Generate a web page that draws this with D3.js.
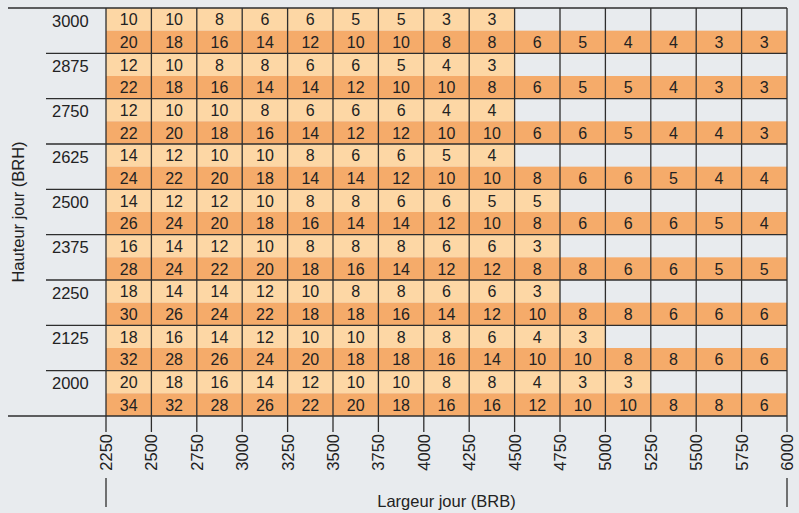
<!DOCTYPE html>
<html><head><meta charset="utf-8">
<script src="https://cdn.jsdelivr.net/npm/d3@7"></script>
<style>
html,body{margin:0;padding:0;background:#e8ebee;}
svg{display:block;font-family:"Liberation Sans",Arial,Helvetica,sans-serif;}
</style></head>
<body><svg id="c" width="799" height="513"></svg>
<script>
const rows = [3000, 2875, 2750, 2625, 2500, 2375, 2250, 2125, 2000];
const xTicks = [2250, 2500, 2750, 3000, 3250, 3500, 3750, 4000, 4250, 4500, 4750, 5000, 5250, 5500, 5750, 6000];
const topValues = [
  [10,10,8,6,6,5,5,3,3],
  [12,10,8,8,6,6,5,4,3],
  [12,10,10,8,6,6,6,4,4],
  [14,12,10,10,8,6,6,5,4],
  [14,12,12,10,8,8,6,6,5,5],
  [16,14,12,10,8,8,8,6,6,3],
  [18,14,14,12,10,8,8,6,6,3],
  [18,16,14,12,10,10,8,8,6,4,3],
  [20,18,16,14,12,10,10,8,8,4,3,3]
];
const bottomValues = [
  [20,18,16,14,12,10,10,8,8,6,5,4,4,3,3],
  [22,18,16,14,14,12,10,10,8,6,5,5,4,3,3],
  [22,20,18,16,14,12,12,10,10,6,6,5,4,4,3],
  [24,22,20,18,14,14,12,10,10,8,6,6,5,4,4],
  [26,24,20,18,16,14,14,12,10,8,6,6,6,5,4],
  [28,24,22,20,18,16,14,12,12,8,8,6,6,5,5],
  [30,26,24,22,18,18,16,14,12,10,8,8,6,6,6],
  [32,28,26,24,20,18,18,16,14,10,10,8,8,6,6],
  [34,32,28,26,22,20,18,16,16,12,10,10,8,8,6]
];
const xTitle = "Largeur jour (BRB)";
const yTitle = "Hauteur jour (BRH)";

(function () {
const svg = d3.select("#c");
const pl = 106, pr = 787, pt = 8, pb = 416;
const x = d3.scaleLinear().domain([2250, 6000]).range([pl, pr]);
const y = d3.scaleBand().domain(rows).range([pt, pb]).padding(0);
const sub = d3.scaleBand().domain(["top", "bottom"]).range([0, y.bandwidth()]);
const colW = x(2500) - x(2250);
const lightC = "#fdd7a5", darkC = "#f5ab6a", lineC = "#2e2e2e", txtC = "#222";

const cells = [];
rows.forEach((r, i) => {
  topValues[i].forEach((v, j) => cells.push({r, part: "top", x0: xTicks[j], v}));
  bottomValues[i].forEach((v, j) => cells.push({r, part: "bottom", x0: xTicks[j], v}));
});
const g = svg.append("g");
g.selectAll("rect").data(cells).join("rect")
  .attr("x", d => x(d.x0)).attr("width", colW)
  .attr("y", d => y(d.r) + sub(d.part)).attr("height", sub.bandwidth())
  .attr("fill", d => d.part === "top" ? lightC : darkC);
g.selectAll("text").data(cells).join("text")
  .attr("x", d => x(d.x0) + colW / 2)
  .attr("y", d => y(d.r) + sub(d.part) + sub.bandwidth() / 2 + 6)
  .attr("text-anchor", "middle").attr("font-size", 16).attr("fill", txtC)
  .text(d => d.v);

svg.append("g").selectAll("line").data(xTicks).join("line")
  .attr("x1", d => x(d)).attr("x2", d => x(d))
  .attr("y1", pt).attr("y2", pb + 16)
  .attr("stroke", lineC).attr("stroke-width", 1.3);
const hl = rows.map(r => y(r)).concat([pb]);
svg.append("g").selectAll("line").data(hl).join("line")
  .attr("x1", (d, i) => (i === 0 || i === hl.length - 1) ? 8 : 46)
  .attr("x2", pr)
  .attr("y1", d => d).attr("y2", d => d)
  .attr("stroke", lineC).attr("stroke-width", 1.3);

svg.append("g").selectAll("text").data(rows).join("text")
  .attr("x", 52).attr("y", d => y(d) + 18.5)
  .attr("font-size", 16.5).attr("fill", txtC).text(d => d);

svg.append("g").selectAll("text").data(xTicks).join("text")
  .attr("transform", d => `translate(${x(d)},434) rotate(-90)`)
  .attr("text-anchor", "end").attr("dy", "0.36em")
  .attr("font-size", 16.5).attr("fill", txtC).text(d => d);

svg.append("g").selectAll("line").data([xTicks[0], xTicks[xTicks.length - 1]]).join("line")
  .attr("x1", d => x(d)).attr("x2", d => x(d)).attr("y1", 478).attr("y2", 507)
  .attr("stroke", lineC).attr("stroke-width", 1.3);

svg.append("text").attr("x", (pl + pr) / 2).attr("y", 507)
  .attr("text-anchor", "middle").attr("font-size", 16.5).attr("fill", txtC).text(xTitle);
svg.append("text").attr("transform", `translate(24,${(pt + pb) / 2}) rotate(-90)`)
  .attr("text-anchor", "middle").attr("font-size", 16.5).attr("fill", txtC).text(yTitle);
})();
</script></body></html>
